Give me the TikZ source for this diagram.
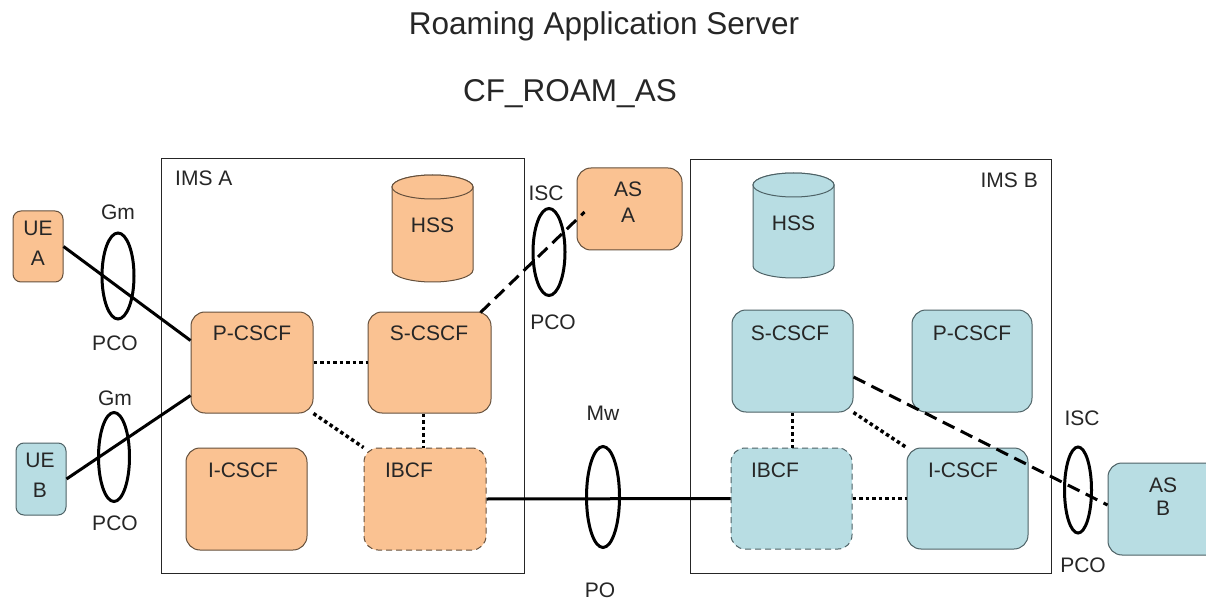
\documentclass[tikz,border=0pt]{standalone}
\usepackage{fontspec}
\setmainfont{Liberation Sans}
\usetikzlibrary{shapes.geometric}
\definecolor{orfill}{HTML}{FAC292}
\definecolor{orline}{HTML}{65503C}
\definecolor{blfill}{HTML}{B8DDE3}
\definecolor{blline}{HTML}{4E6266}
\definecolor{txt}{HTML}{262626}
\tikzset{
  obox/.style={draw=orline, fill=orfill, rounded corners=14pt, line width=1pt},
  bbox/.style={draw=blline, fill=blfill, rounded corners=14pt, line width=1pt},
  dashbox/.style={dash pattern=on 6pt off 4pt},
  lbl/.style={text=txt, font=\fontsize{21}{24}\selectfont, inner sep=0pt},
  imsbox/.style={draw=black!85, line width=1pt},
  solidc/.style={line width=3pt, black},
  dotc/.style={line width=3.5pt, black, dash pattern=on 3.5pt off 3pt},
  dashc/.style={line width=3pt, black, dash pattern=on 13pt off 7pt},
  ring/.style={ellipse, draw=black, line width=3pt, inner sep=0pt},
}
\begin{document}
\begin{tikzpicture}[x=1pt,y=-1pt]
\clip (0,0) rectangle (1206,601);
\fill[white] (0,0) rectangle (1206,601);

% titles
\node[lbl, anchor=base, font=\fontsize{31.5}{34}\selectfont] (title) at (604,35) {Roaming Application Server};
\node[lbl, anchor=base, font=\fontsize{31.5}{34}\selectfont] (sub) at (570,102) {CF\_ROAM\_AS};

% IMS frames
\node[imsbox, minimum width=363pt, minimum height=414pt, inner sep=0pt] (imsA) at (342.5,366) {};
\node[imsbox, minimum width=361pt, minimum height=413pt, inner sep=0pt] (imsB) at (870.5,366.5) {};
\node[lbl, anchor=west] (imsAl) at (175,178) {IMS A};
\node[lbl, anchor=east] (imsBl) at (1038,180) {IMS B};

% HSS cylinders
\filldraw[draw=orline, fill=orfill, line width=1pt]
  (392,187) -- (392,270) arc[start angle=180, end angle=0, x radius=40.5, y radius=12]
  -- (473,187) arc[start angle=0, end angle=-180, x radius=40.5, y radius=12] -- cycle;
\filldraw[draw=orline, fill=orfill, line width=1pt] (432.5,187) ellipse[x radius=40.5, y radius=12];
\node[lbl] (hssA) at (432.5,225) {HSS};

\filldraw[draw=blline, fill=blfill, line width=1pt]
  (753,185) -- (753,266) arc[start angle=180, end angle=0, x radius=40.5, y radius=12]
  -- (834,185) arc[start angle=0, end angle=-180, x radius=40.5, y radius=12] -- cycle;
\filldraw[draw=blline, fill=blfill, line width=1pt] (793.5,185) ellipse[x radius=40.5, y radius=12];
\node[lbl] (hssB) at (793.5,223) {HSS};

% UE boxes
\node[obox, rounded corners=8pt, minimum width=50pt, minimum height=71pt] (ueA) at (38,246.5) {};
\node[lbl] (ueAt) at (38,228) {UE};
\node[lbl] (ueAt2) at (38,258) {A};
\node[bbox, rounded corners=8pt, minimum width=50pt, minimum height=72pt] (ueB) at (41,479) {};
\node[lbl] (ueBt) at (40,460) {UE};
\node[lbl] (ueBt2) at (40,490) {B};

% IMS A nodes
\node[obox, minimum width=122pt, minimum height=101pt] (pA) at (252,362.5) {};
\node[lbl] (pAt) at (252,333) {P-CSCF};
\node[obox, minimum width=123pt, minimum height=101pt] (sA) at (429.5,362.5) {};
\node[lbl] (sAt) at (429,333) {S-CSCF};
\node[obox, minimum width=121pt, minimum height=102pt] (iA) at (246.5,499) {};
\node[lbl] (iAt) at (243,470) {I-CSCF};
\node[obox, dashbox, minimum width=122pt, minimum height=102pt] (ibA) at (425,499) {};
\node[lbl] (ibAt) at (409,470) {IBCF};

% AS A
\node[obox, minimum width=105pt, minimum height=82pt] (asA) at (629.5,209) {};
\node[lbl] (asAt) at (628,189) {AS};
\node[lbl] (asAt2) at (628,215) {A};

% IMS B nodes
\node[bbox, minimum width=121pt, minimum height=102pt] (sB) at (792.5,361) {};
\node[lbl] (sBt) at (790,333) {S-CSCF};
\node[bbox, minimum width=120pt, minimum height=102pt] (pB) at (972,361) {};
\node[lbl] (pBt) at (972,333) {P-CSCF};
\node[bbox, dashbox, minimum width=121pt, minimum height=101pt] (ibB) at (791.5,498.5) {};
\node[lbl] (ibBt) at (775,470) {IBCF};
\node[bbox, minimum width=121pt, minimum height=101pt] (icB) at (967.5,498.5) {};
\node[lbl] (icBt) at (963,470) {I-CSCF};

% AS B
\node[bbox, minimum width=114pt, minimum height=92pt] (asB) at (1165,509) {};
\node[lbl] (asBt) at (1163,485) {AS};
\node[lbl] (asBt2) at (1163,508) {B};

% connectors
\draw[solidc] (ueA.east) -- ([yshift=22pt]pA.west);
\draw[solidc] (ueB.east) -- ([yshift=-33pt]pA.west);
\draw[dotc] (pA.east) -- (sA.west);
\draw[dotc] (pA.south east) -- (ibA.north west);
\coordinate (tmpA) at ([xshift=-6pt]ibA.north -| sA.south);
\draw[dotc] (sA.south -| tmpA) -- (tmpA);
\draw[solidc] (ibA.east) -- (ibB.west);
\draw[dashc] ([xshift=-11pt,yshift=-1pt]sA.north east) -- ([xshift=8pt,yshift=-3pt]asA.west);
\draw[dotc] (sB.south) -- (sB.south |- ibB.north);
\draw[dotc] (sB.south east) -- (icB.north west);
\draw[dotc] (ibB.east) -- (icB.west);
\draw[dashc] ([yshift=-16pt]sB.east) -- ([yshift=4pt]asB.west);

% reference point rings
\node[ring, minimum width=32pt, minimum height=86pt] (gm1) at (118,276) {};
\node[lbl] (gm1t) at (118,212) {Gm};
\node[lbl] (pco1) at (115,343) {PCO};
\node[ring, minimum width=31pt, minimum height=89pt] (gm2) at (114,457) {};
\node[lbl] (gm2t) at (115,398) {Gm};
\node[lbl] (pco2) at (115,523) {PCO};
\node[ring, minimum width=32pt, minimum height=87pt] (isc1) at (549,252) {};
\node[lbl] (isc1t) at (546,193) {ISC};
\node[lbl] (pco3) at (553,322) {PCO};
\node[ring, minimum width=27pt, minimum height=86pt] (isc2) at (1078,490) {};
\node[lbl] (isc2t) at (1082,418) {ISC};
\node[lbl] (pco4) at (1083,565) {PCO};
\node[ring, minimum width=33pt, minimum height=101pt] (mw) at (603,497) {};
\node[lbl] (mwt) at (603,413) {Mw};
\node[lbl] (po) at (600,590) {PO};
\end{tikzpicture}
\end{document}
